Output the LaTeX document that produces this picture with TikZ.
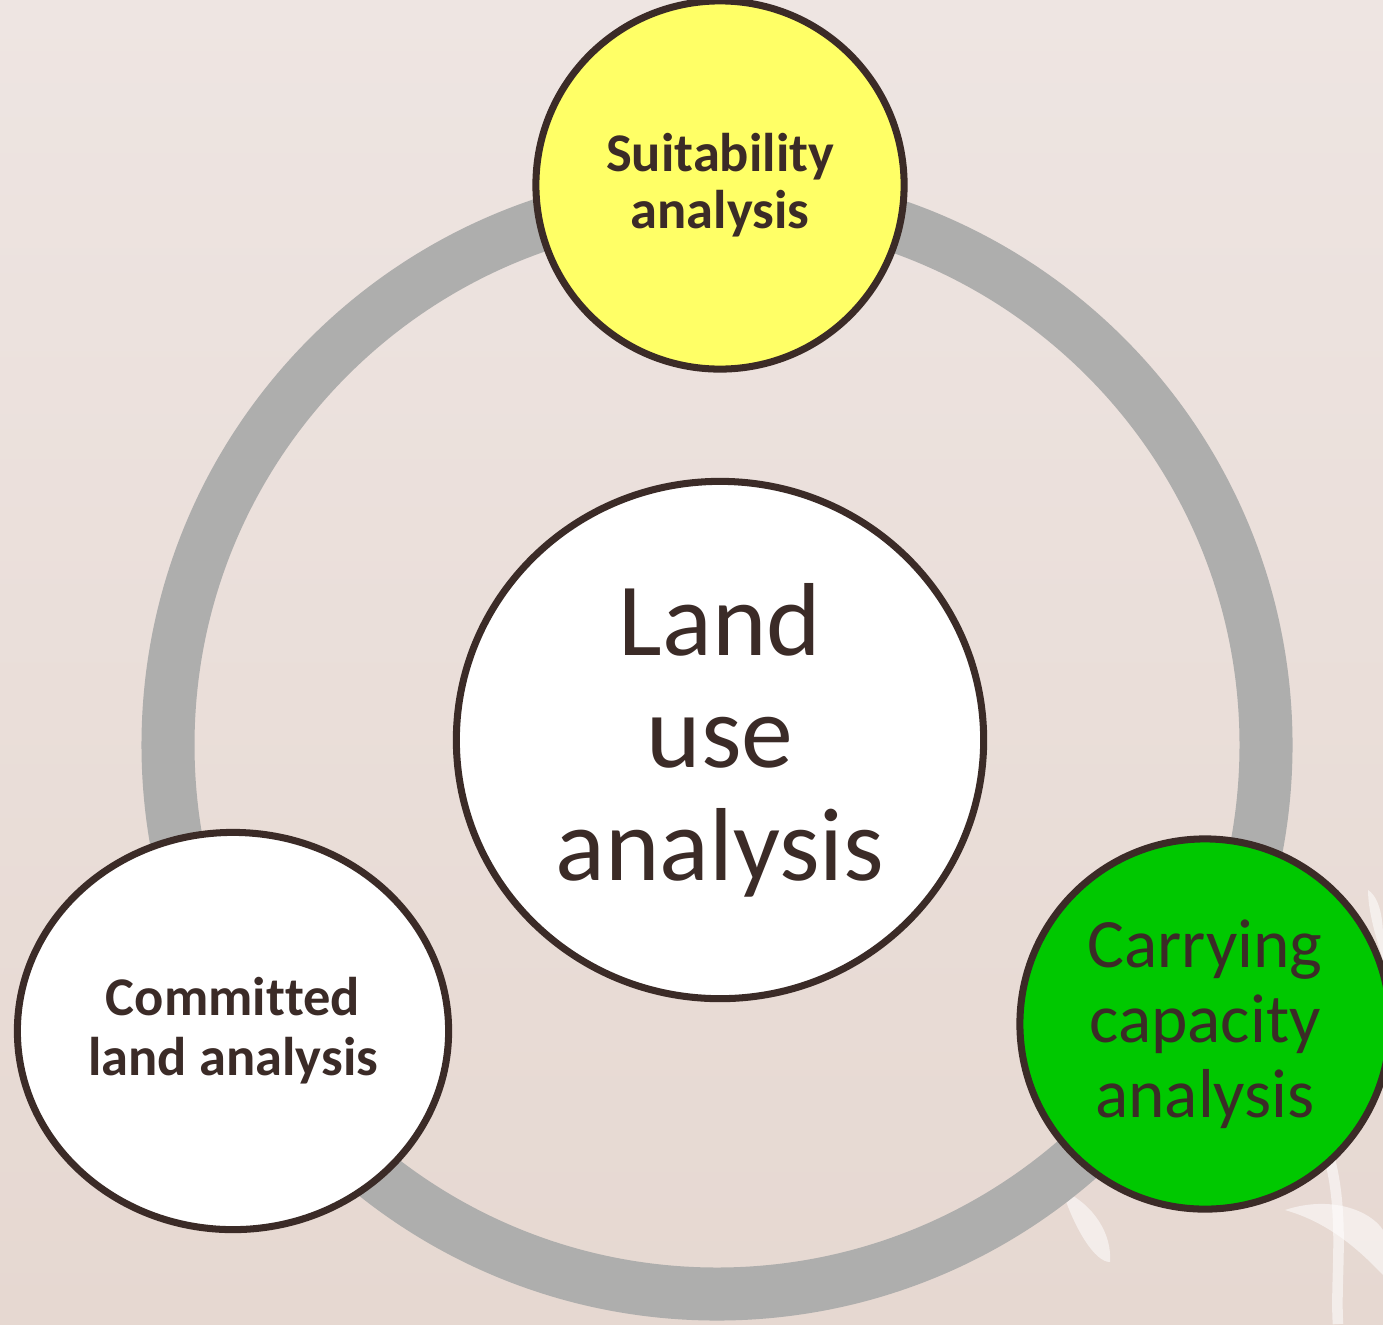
\documentclass[tikz,border=0pt]{standalone}
\usepackage{fontspec}
\setmainfont{Carlito}[Ligatures=NoCommon,Contextuals=NoAlternate]
\usetikzlibrary{shapes.geometric}
\definecolor{ink}{HTML}{3B2B27}
\definecolor{ringgray}{HTML}{AEAEAD}
\definecolor{suityellow}{HTML}{FFFF66}
\definecolor{carrygreen}{HTML}{00C800}
\definecolor{bgtop}{HTML}{EEE5E2}
\definecolor{bgbottom}{HTML}{E6D8D1}
\tikzset{
  bubble/.style={ellipse, draw=ink, line width=2pt, text=ink, align=center, inner sep=0pt},
  leaf/.style={white, opacity=.55}
}

\begin{document}
\begin{tikzpicture}[x=0.01cm,y=-0.01cm]
\useasboundingbox (0,0) rectangle (1383,1324);
\shade[top color=bgtop, bottom color=bgbottom] (0,0) rectangle (1383,1324);
\fill[leaf] (1062,1190) .. controls (1075,1230) and (1095,1262) .. (1110,1262) .. controls (1112,1235) and (1095,1205) .. (1062,1190);
\fill[leaf] (1285,1210) .. controls (1330,1195) and (1370,1210) .. (1383,1230) -- (1383,1275) .. controls (1350,1240) and (1320,1220) .. (1285,1210);
\fill[leaf] (1368,890) .. controls (1383,900) and (1383,930) .. (1383,940) -- (1383,960) .. controls (1375,935) and (1368,910) .. (1368,890);
\draw[leaf, line width=3pt] (1330,1160) .. controls (1345,1220) and (1335,1280) .. (1338,1324);
\xdef\ringr{549}
\coordinate (O) at (717,745);
\draw[ringgray, line width=0.53cm] (O) circle[radius=\ringr];
\node[bubble, fill=white, minimum width=5.27cm, minimum height=5.17cm,
  font=\fontsize{29.5}{32}\selectfont] (landuse) at (720,740) {Land\\use\\analysis};
\node[bubble, fill=suityellow, minimum width=3.68cm, minimum height=3.68cm,
  font=\bfseries\fontsize{15.5}{16.3}\selectfont] (suit) at (720,185) {Suitability\\analysis};
\node[bubble, fill=white, minimum width=4.31cm, minimum height=3.97cm,
  font=\bfseries\fontsize{15.5}{17}\selectfont] (committed) at (233,1031) {Commit\kern0pt ted\\land analysis};
\node[bubble, fill=carrygreen, minimum width=3.70cm, minimum height=3.70cm,
  font=\fontsize{19.7}{21.3}\selectfont] (carrying) at (1205,1024) {Carrying\\capacity\\analysis};
\end{tikzpicture}
\end{document}
